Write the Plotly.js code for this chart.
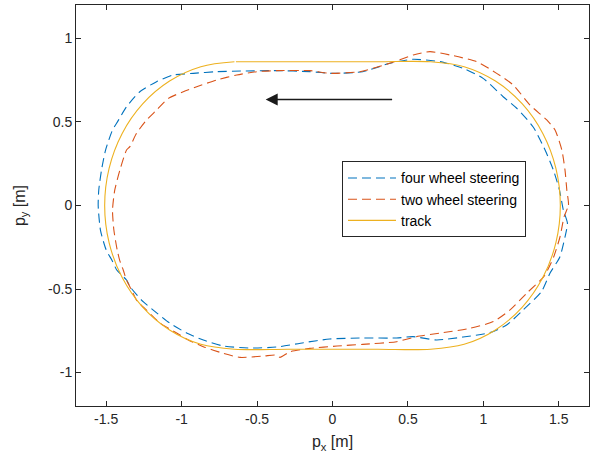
<!DOCTYPE html>
<html>
<head>
<meta charset="utf-8">
<script src="https://cdn.plot.ly/plotly-3.0.1.min.js"></script>
<style>html,body{margin:0;padding:0;background:#fff;}#chart{width:597px;height:462px;}</style>
</head>
<body>
<div id="chart"></div>
<script>
// ---- data ----
var seriesNames = ["four wheel steering", "two wheel steering", "track"];

var fourWheelX = [1.541, 1.557, 1.530, 1.504, 1.464, 1.409, 1.330, 1.221, 1.131, 0.998, 0.866, 0.712, 0.533, 0.380, 0.200, 0.000,
  -0.149, -0.370, -0.591, -0.768, -0.922, -1.055, -1.166, -1.277, -1.365, -1.431, -1.458, -1.504, -1.531, -1.549, -1.553,
  -1.538, -1.500, -1.460, -1.430, -1.365, -1.340, -1.266, -1.188, -1.080, -0.967, -0.856, -0.723, -0.549, -0.370, -0.192,
  -0.018, 0.200, 0.425, 0.533, 0.690, 0.866, 1.044, 1.154, 1.264, 1.385, 1.442, 1.506, 1.541];
var fourWheelY = [-0.188, -0.105, -0.027, 0.093, 0.212, 0.332, 0.470, 0.582, 0.651, 0.761, 0.821, 0.861, 0.875, 0.851, 0.801, 0.791,
  0.801, 0.807, 0.805, 0.801, 0.791, 0.781, 0.741, 0.681, 0.591, 0.492, 0.452, 0.332, 0.212, 0.093, 0.000,
  -0.147, -0.266, -0.330, -0.386, -0.446, -0.488, -0.566, -0.626, -0.703, -0.763, -0.805, -0.841, -0.853, -0.847, -0.821,
  -0.799, -0.793, -0.793, -0.785, -0.805, -0.787, -0.761, -0.715, -0.625, -0.515, -0.404, -0.310, -0.188];

var twoWheelX = [1.535, 1.564, 1.553, 1.541, 1.520, 1.475, 1.420, 1.309, 1.198, 1.088, 0.955, 0.778, 0.646, 0.535, 0.380, 0.181, -0.016,
  -0.149, -0.370, -0.502, -0.635, -0.768, -0.900, -0.989, -1.088, -1.166, -1.232, -1.299, -1.343, -1.365, -1.409, -1.443, -1.458,
  -1.449, -1.427, -1.410, -1.387, -1.365, -1.335, -1.299, -1.232, -1.144, -1.033, -0.956, -0.856, -0.723, -0.613, -0.458, -0.370,
  -0.348, -0.281, -0.149, 0.030, 0.200, 0.425, 0.557, 0.734, 0.911, 1.066, 1.177, 1.287, 1.400, 1.465, 1.508, 1.535];
var twoWheelY = [-0.067, 0.003, 0.093, 0.212, 0.332, 0.452, 0.512, 0.601, 0.721, 0.791, 0.861, 0.901, 0.921, 0.901, 0.851, 0.801, 0.791,
  0.807, 0.807, 0.801, 0.781, 0.751, 0.711, 0.681, 0.641, 0.571, 0.512, 0.432, 0.352, 0.332, 0.212, 0.093, -0.027,
  -0.147, -0.266, -0.330, -0.386, -0.446, -0.500, -0.566, -0.626, -0.703, -0.763, -0.805, -0.845, -0.885, -0.909, -0.901, -0.895,
  -0.909, -0.875, -0.855, -0.841, -0.831, -0.815, -0.785, -0.761, -0.735, -0.695, -0.625, -0.525, -0.426, -0.310, -0.187, -0.067];

var trackX = [-0.65, -0.8726, -1.08, -1.2581, -1.3948, -1.4807, -1.51, -1.4807, -1.3948, -1.2581, -1.08, -0.8726, -0.65,
  -0.3, 0.0, 0.3, 0.65, 0.8726, 1.08, 1.2581, 1.3948, 1.4807, 1.51, 1.4807, 1.3948, 1.2581, 1.08, 0.8726, 0.65,
  0.3, 0.0, -0.3, -0.64];
var trackY = [0.86, 0.8307, 0.7448, 0.6081, 0.43, 0.2226, 0.0, -0.2226, -0.43, -0.6081, -0.7448, -0.8307, -0.86,
  -0.86, -0.86, -0.86, -0.86, -0.8307, -0.7448, -0.6081, -0.43, -0.2226, 0.0, 0.2226, 0.43, 0.6081, 0.7448, 0.8307, 0.86,
  0.86, 0.86, 0.86, 0.86];

var arrowTail = [0.405, 0.634];
var arrowHead = [-0.443, 0.634];

var xTickVals = [-1.5, -1, -0.5, 0, 0.5, 1, 1.5];
var xTickText = ["-1.5", "-1", "-0.5", "0", "0.5", "1", "1.5"];
var yTickVals = [-1, -0.5, 0, 0.5, 1];
var yTickText = ["-1", "-0.5", "0", "0.5", "1"];

// ---- chart ----
var FONT = "Liberation Sans, Arial, Helvetica, sans-serif";
var AX = "#262626";

var traces = [
  {x: fourWheelX, y: fourWheelY, name: seriesNames[0], mode: "lines",
   line: {color: "#0072BD", width: 1.1, dash: "9px,5px", shape: "spline", smoothing: 0.6}},
  {x: twoWheelX, y: twoWheelY, name: seriesNames[1], mode: "lines",
   line: {color: "#D95319", width: 1.1, dash: "9px,5px", shape: "spline", smoothing: 0.6}},
  {x: trackX, y: trackY, name: seriesNames[2], mode: "lines",
   line: {color: "#EDB120", width: 1.1, shape: "spline", smoothing: 1}}
];

var axisCommon = {
  showline: true, linecolor: AX, linewidth: 1, mirror: "ticks",
  ticks: "inside", ticklen: 5, tickwidth: 1, tickcolor: AX,
  showgrid: false, zeroline: false,
  tickfont: {family: FONT, size: 14, color: AX}
};

var layout = {
  width: 597, height: 462,
  margin: {l: 76, r: 8, t: 5, b: 56},
  paper_bgcolor: "#fff", plot_bgcolor: "#fff",
  font: {family: FONT, color: AX},
  showlegend: true,
  legend: {x: 0.5185, y: 0.61, xanchor: "left", yanchor: "top",
           bgcolor: "#fff", bordercolor: AX, borderwidth: 1, itemwidth: 48,
           font: {family: FONT, size: 14, color: "#000"}, tracegroupgap: 0},
  xaxis: Object.assign({}, axisCommon, {
    range: [-1.7, 1.7], tickmode: "array", tickvals: xTickVals, ticktext: xTickText,
    title: {text: "p<sub>x</sub> [m]", font: {family: FONT, size: 16, color: AX}, standoff: 10}
  }),
  yaxis: Object.assign({}, axisCommon, {
    range: [-1.2, 1.2], tickmode: "array", tickvals: yTickVals, ticktext: yTickText,
    title: {text: "p<sub>y</sub> [m]", font: {family: FONT, size: 16, color: AX}, standoff: 18}
  }),
  annotations: [{
    x: arrowHead[0], y: arrowHead[1], ax: arrowTail[0], ay: arrowTail[1],
    xref: "x", yref: "y", axref: "x", ayref: "y",
    text: "", showarrow: true, arrowhead: 2, arrowsize: 1.6, arrowwidth: 1.5, arrowcolor: "#1a1a1a"
  }]
};

Plotly.newPlot("chart", traces, layout, {displayModeBar: false, staticPlot: true});
</script>
</body>
</html>
